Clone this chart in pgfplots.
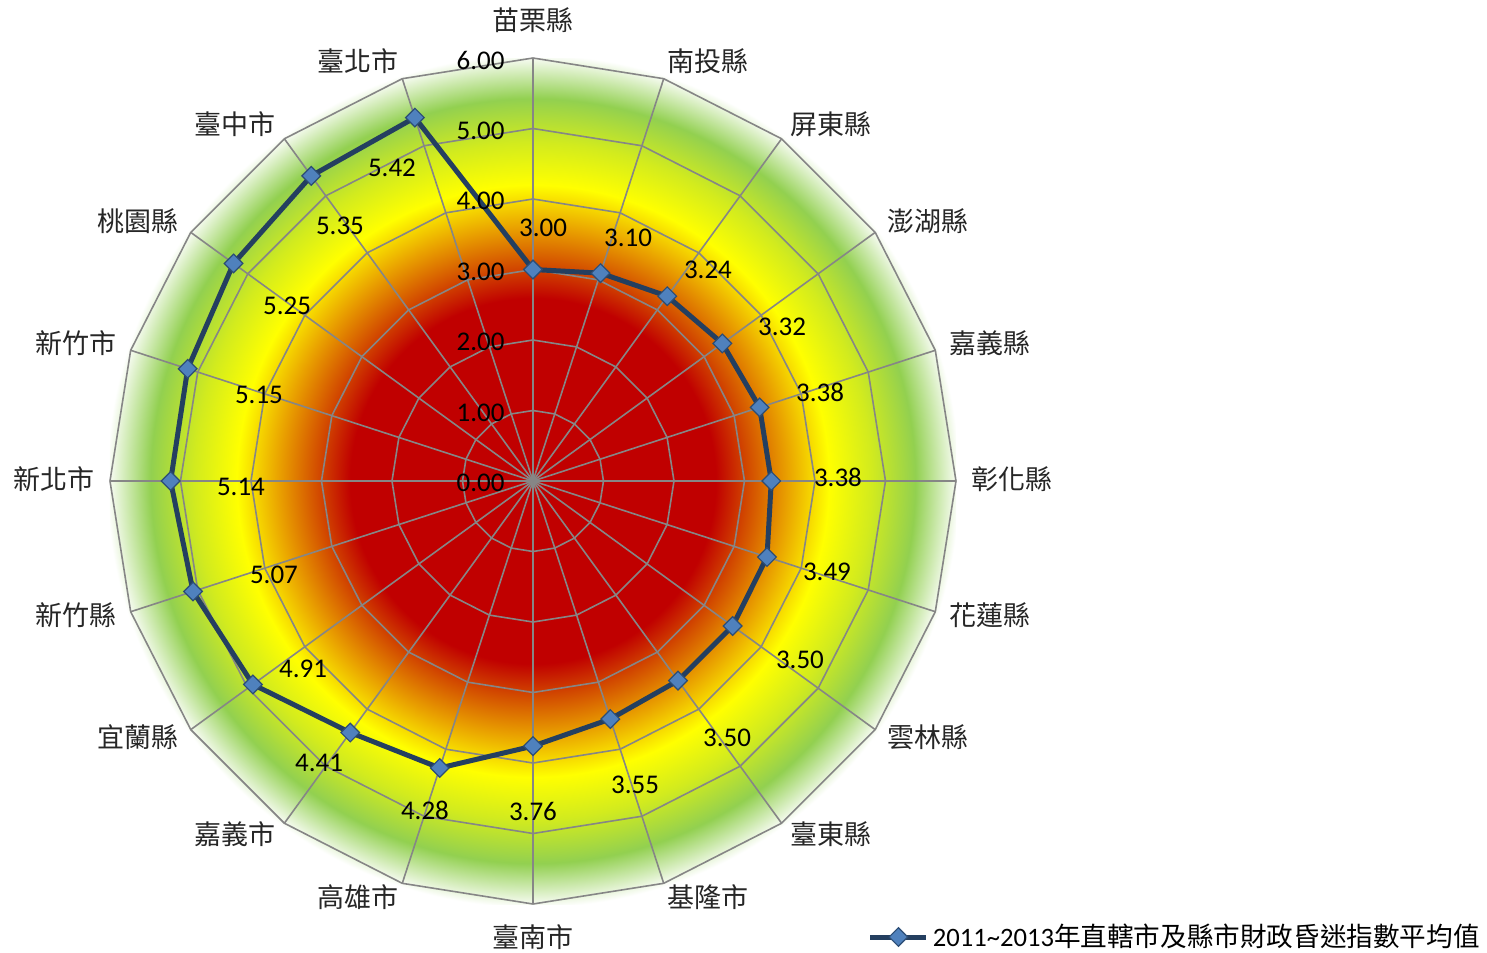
\documentclass[border=0pt]{standalone}
\usepackage{fontspec}
\setmainfont{Carlito}
\newfontfamily\cjk{Noto Sans CJK TC}
\usepackage{pgfplots}
\usepackage{pgfplotstable}
\pgfplotsset{compat=1.18}
\usepgfplotslibrary{polar}

\definecolor{gridgray}{HTML}{868686}
\definecolor{lineblue}{HTML}{243F60}
\definecolor{markblue}{HTML}{4F81BD}
\definecolor{markedge}{HTML}{2C4D75}
\definecolor{hRed}{HTML}{C00000}
\definecolor{hRedOr}{HTML}{D24A00}
\definecolor{hOrange}{HTML}{E9A000}
\definecolor{hYellow}{HTML}{FFFF00}
\definecolor{hYelGreen}{HTML}{D2EB1E}
\definecolor{hGreen}{HTML}{92D050}

% 25bp = half side of the shaded square = radius 6
\pgfdeclareradialshading{heat}{\pgfpoint{0bp}{0bp}}{%
  color(0bp)=(hRed); color(10.8bp)=(hRed); color(12.7bp)=(hRedOr);
  color(15bp)=(hOrange); color(17.5bp)=(hYellow); color(20bp)=(hYelGreen);
  color(22.6bp)=(hGreen); color(25.2bp)=(white); color(50bp)=(white)}

% county, angle (deg), average index 2011-2013
\pgfplotstableread{
ang val
90 3.00
72 3.10
54 3.24
36 3.32
18 3.38
0 3.38
-18 3.49
-36 3.50
-54 3.50
-72 3.55
-90 3.76
-108 4.28
-126 4.41
-144 4.91
-162 5.07
-180 5.14
-198 5.15
-216 5.25
-234 5.35
-252 5.42
-270 3.00
}\datatable

\pgfplotstableread{
x y lab
0.142 3.589 3.00
1.348 3.447 3.10
2.482 2.993 3.24
3.532 2.184 3.32
4.071 1.262 3.38
4.326 0.057 3.38
4.170 -1.291 3.49
3.787 -2.539 3.50
2.752 -3.645 3.50
1.447 -4.312 3.55
0 -4.681 3.76
-1.532 -4.667 4.28
-3.035 -4.000 4.41
-3.262 -2.667 4.91
-3.674 -1.333 5.07
-4.142 -0.085 5.14
-3.887 1.220 5.15
-3.489 2.482 5.25
-2.738 3.617 5.35
-2.000 4.440 5.42
}\vallabels

\pgfplotstableread{
x y lab
0 6.539 苗栗縣
2.482 5.957 南投縣
4.227 5.064 屏東縣
5.603 3.688 澎湖縣
6.489 1.957 嘉義縣
6.801 0.028 彰化縣
6.489 -1.901 花蓮縣
5.603 -3.631 雲林縣
4.227 -5.007 臺東縣
2.482 -5.901 基隆市
0 -6.468 臺南市
-2.482 -5.901 高雄市
-4.227 -5.007 嘉義市
-5.603 -3.631 宜蘭縣
-6.489 -1.901 新竹縣
-6.801 0.028 新北市
-6.489 1.957 新竹市
-5.603 3.688 桃園縣
-4.227 5.064 臺中市
-2.482 5.957 臺北市
}\catlabels

\pgfplotstableread{
x y lab
-0.397 -0.03 0.00
-0.397 0.97 1.00
-0.397 1.97 2.00
-0.397 2.97 3.00
-0.397 3.97 4.00
-0.397 4.97 5.00
-0.397 5.97 6.00
}\ticklabels

\begin{document}
\begin{tikzpicture}
\begin{axis}[
  scale only axis,
  width=743.5pt, height=476pt,
  xmin=-7.560, xmax=13.532,
  ymin=-6.681, ymax=6.823,
  hide axis, clip=false,
  legend style={at={(axis cs:13.49,-6.468)}, anchor=east,
    draw=none, fill=none, inner sep=0pt,
    font=\fontsize{13.3}{15}\selectfont},
  legend image code/.code={%
    \draw[mark repeat=2,mark phase=2,#1] plot coordinates {(0pt,0pt)(14pt,0pt)(28pt,0pt)};},
]
\path[shading=heat] (axis cs:-6,-6) rectangle (axis cs:6,6);

% web: rings and spokes
\pgfplotsinvokeforeach{1,2,3,4,5,6}{
  \addplot[gridgray, line width=0.8pt, data cs=polar, forget plot] coordinates {
    (90,#1)(72,#1)(54,#1)(36,#1)(18,#1)(0,#1)(-18,#1)(-36,#1)(-54,#1)(-72,#1)
    (-90,#1)(-108,#1)(-126,#1)(-144,#1)(-162,#1)(-180,#1)(-198,#1)(-216,#1)
    (-234,#1)(-252,#1)(-270,#1)};
}
\pgfplotsinvokeforeach{90,72,54,36,18,0,-18,-36,-54,-72,-90,-108,-126,-144,-162,-180,-198,-216,-234,-252}{
  \addplot[gridgray, line width=0.8pt, data cs=polar, forget plot] coordinates {(#1,0)(#1,6)};
}

\addplot[lineblue, line width=2.5pt, data cs=polar,
  mark=square*, mark size=3.3pt,
  mark options={rotate=45, fill=markblue, draw=markedge, line width=0.6pt}]
  table[x=ang, y=val] {\datatable};
\addlegendentry{2011\textasciitilde 2013{\cjk 年直轄市及縣市財政昏迷指數平均值}}

\addplot[draw=none, mark=none, forget plot, nodes near coords,
  point meta=explicit symbolic,
  nodes near coords style={anchor=center, font=\fontsize{13.5}{15}\selectfont}]
  table[x=x, y=y, meta=lab] {\vallabels};

\addplot[draw=none, mark=none, forget plot, nodes near coords,
  point meta=explicit symbolic,
  nodes near coords style={anchor=east, inner sep=0pt, font=\fontsize{13.5}{15}\selectfont}]
  table[x=x, y=y, meta=lab] {\ticklabels};

\addplot[draw=none, mark=none, forget plot, nodes near coords,
  point meta=explicit symbolic,
  nodes near coords style={anchor=center, text=black!85, font=\cjk\fontsize{13.5}{15}\selectfont}]
  table[x=x, y=y, meta=lab] {\catlabels};
\end{axis}
\pgfresetboundingbox
\path (current axis.south west) rectangle (current axis.north east);
\end{tikzpicture}
\end{document}
